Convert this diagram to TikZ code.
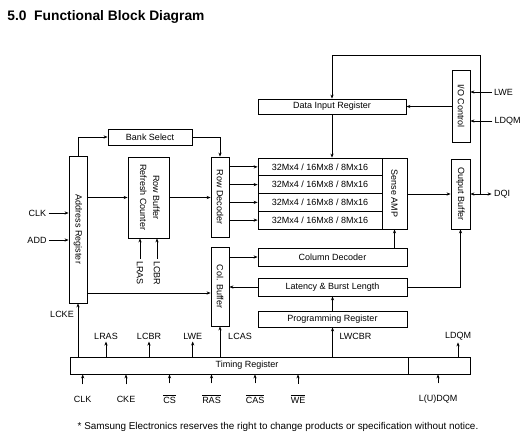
\documentclass[tikz,border=0pt]{standalone}
\usepackage{amsmath}
\usepackage{fontspec}
\setmainfont{Liberation Sans}
\usetikzlibrary{arrows.meta}

\begin{document}
\begin{tikzpicture}[x=1pt, y=-1pt, line width=0.8pt, >={Stealth[length=4pt,width=3.2pt]},
    every node/.style={font=\fontsize{9}{10}\selectfont, inner sep=2pt},
    blk/.style 2 args={draw, inner sep=0pt, minimum width=#1, minimum height=#2},
    sigin/.style={->, shorten <=9pt}]
    \useasboundingbox (0,0) rectangle (526,441);
    \node[anchor=base west, inner sep=0pt, font=\fontsize{13.8}{15}\selectfont\bfseries] (title) at (7,21) {5.0\ \ Functional Block Diagram};

    \node[blk={18}{147}] (addr) at (78,229.5) {\rotatebox{-90}{Address Register}};
    \node[blk={84}{16}] (bank) at (150,137) {Bank Select};
    \node[blk={41}{81}] (rowbuf) at (148.5,197.5) {\rotatebox{-90}{\begin{tabular}{@{}c@{}}Row Buffer\\[3pt]Refresh Counter\end{tabular}}};
    \node[blk={18}{80}] (rowdec) at (220,197) {\rotatebox{-90}{Row Decoder}};
    \node[blk={18}{79}] (colbuf) at (220,286.5) {\rotatebox{-90}{Col. Buffer}};
    \node[blk={148}{15}] (dinreg) at (332,106.5) {Data Input Register};
    \foreach \i in {1,...,4}
        \node[blk={124}{17.75}] (arr\i) at (320,149.125+17.75*\i) {32Mx4 / 16Mx8 / 8Mx16};
    \node[blk={25}{71}] (sense) at (394.5,193.5) {\rotatebox{-90}{Sense AMP}};
    \node[blk={19}{70}] (outbuf) at (460.5,194) {\rotatebox{-90}{Output Buffer}};
    \node[blk={18}{72}] (ioctl) at (461,106) {\rotatebox{-90}{I/O Control}};
    \node[blk={149}{18}] (coldec) at (332.5,257) {Column Decoder};
    \node[blk={149}{18}] (latency) at (332.5,287) {Latency \& Burst Length};
    \node[blk={149}{16}] (progreg) at (332.5,319) {Programming Register};
    \node[blk={338}{17}] (timing) at (239,365.5) {\hspace{16pt}Timing Register};
    \node[blk={62}{17}] (dqmbox) at (439,365.5) {};

    \draw[->] (addr.north) |- (bank.west);
    \draw[->] (bank.east) -| (rowdec.north);
    \draw[->] (rowbuf.west -| addr.east) -- (rowbuf.west);
    \draw[->] (rowbuf.east) -- (rowbuf.east -| rowdec.west);
    \foreach \i in {1,...,4}
        \draw[->] (arr\i.west -| rowdec.east) -- (arr\i.west);
    \draw[->] ([yshift=-6.5pt]colbuf.west -| addr.east) -- ([yshift=-6.5pt]colbuf.west);
    \draw[->] (coldec.west -| colbuf.east) -- (coldec.west);
    \draw[->] (latency.west) -- (latency.west -| colbuf.east);
    \draw[->] (coldec.north -| sense) -- (sense.south);
    \draw[->] (latency.east) -| (outbuf.south);
    \draw[->] (progreg.north) -- (latency.south);
    \draw[->] (timing.north -| progreg) -- (progreg.south);
    \draw[->] (sense.east |- outbuf.west) -- (outbuf.west);
    \draw[->] (dinreg.east -| ioctl.west) -- (dinreg.east);
    \draw[->] (dinreg.south) -- (dinreg.south |- arr1.north);

    \node (dqiT) at (502,194) {DQI};
    \draw[<->] (outbuf.east) -- (dqiT.west);
    \coordinate (fbjoin) at (480,194);
    \coordinate (fbtop) at (480,55);
    \draw[->] (fbjoin) -- (fbtop) -| (dinreg.north);
    \node (lweR) at (503.5,92) {LWE};
    \node (ldqmR) at (507.7,121) {LDQM};
    \draw[->] (lweR.west) -- (lweR.west -| ioctl.east);
    \draw[->] (ldqmR.west) -- (ldqmR.west -| ioctl.east);

    \node (clkL) at (37.5,213) {CLK};
    \node (addL) at (37,240) {ADD};
    \draw[->] (clkL.east) -- (clkL.east -| addr.west);
    \draw[->] (addL.east) -- (addL.east -| addr.west);

    \node (lrasR) at (140,273) {\rotatebox{-90}{LRAS}};
    \node (lcbrR) at (157,273) {\rotatebox{-90}{LCBR}};
    \draw[->] (lrasR.north) -- (lrasR.north |- rowbuf.south);
    \draw[->] (lcbrR.north) -- (lcbrR.north |- rowbuf.south);

    \node (lcke) at (62,314) {LCKE};
    \draw[->] (timing.north -| addr) -- (addr.south);
    \node (lrasT) at (106,336) {LRAS};
    \node (lcbrT) at (149,336) {LCBR};
    \node (lweT) at (192.7,336) {LWE};
    \node (lcasT) at (240,336) {LCAS};
    \node (lwcbrT) at (355.5,336) {LWCBR};
    \node (ldqmT) at (458,336) {LDQM};
    \foreach \n in {lrasT,lcbrT,lweT}
        \draw[->] (timing.north -| \n) -- (\n.south);
    \draw[->] (timing.north -| colbuf) -- (colbuf.south);
    \draw[->] (dqmbox.north -| ldqmT) -- (ldqmT.south);

    \node (clkB) at (82.7,399) {CLK};
    \node (ckeB) at (126,399) {CKE};
    \node (csB) at (169.5,399) {$\overline{\text{CS}}$};
    \node (rasB) at (211.5,399) {$\overline{\text{RAS}}$};
    \node (casB) at (255,399) {$\overline{\text{CAS}}$};
    \node (weB) at (298,399) {$\overline{\text{WE}}$};
    \node (udqmB) at (438,399) {L(U)DQM};
    \foreach \n in {clkB,ckeB,csB,rasB,casB,weB}
        \draw[sigin] (\n.north) -- (\n.north |- timing.south);
    \draw[sigin] (udqmB.north) -- (udqmB.north |- dqmbox.south);

    \node[font=\fontsize{9.9}{11}\selectfont] (note) at (278,427) {* Samsung Electronics reserves the right to change products or specification without notice.};
\end{tikzpicture}
\end{document}
